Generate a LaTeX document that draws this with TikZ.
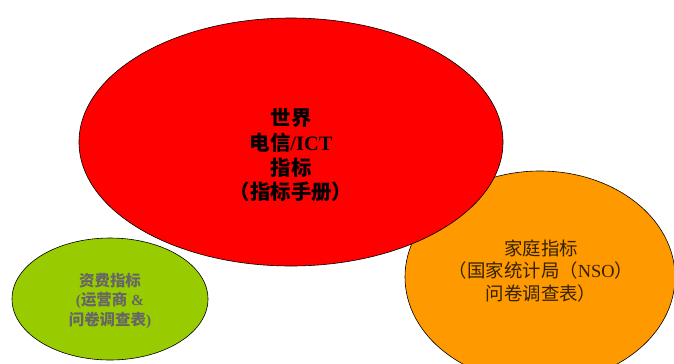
\documentclass[tikz,border=0pt]{standalone}
\usepackage{fontspec}
\setmainfont{Liberation Serif}
\newfontfamily\cjk{Noto Sans CJK SC}
\usetikzlibrary{shapes.geometric}
\definecolor{redfill}{RGB}{255,0,0}
\definecolor{greenfill}{RGB}{153,204,0}
\definecolor{orangefill}{RGB}{255,153,0}
\definecolor{graytext}{RGB}{102,102,102}
\definecolor{darktext}{RGB}{51,34,0}
\tikzset{
  blob/.style={draw=black, line width=0.6bp},
  lbl/.style={align=center, inner sep=0pt}
}
\begin{document}
\begin{tikzpicture}[x=1bp,y=-1bp]
\useasboundingbox (0,0) rectangle (674,363);
\fill[white] (0,0) rectangle (674,363);
\draw[blob, fill=greenfill] (110,299) ellipse [x radius=98, y radius=61];
\draw[blob, fill=orangefill] (540,277) ellipse [x radius=135, y radius=106];
\draw[blob, fill=redfill] (291,142) ellipse [x radius=212, y radius=124];
\node[lbl, font=\bfseries\fontsize{20.5}{25}\selectfont] (red) at (291,155)
  {{\cjk\bfseries 世界}\\{\cjk\bfseries 电信}/ICT\\{\cjk\bfseries 指标}\\{\cjk\bfseries （指标手册）}};
\node[lbl, text=graytext, font=\bfseries\fontsize{15.5}{19.5}\selectfont] (green) at (110,301)
  {{\cjk\bfseries 资费指标}\\({\cjk\bfseries 运营商} \&\\{\cjk\bfseries 问卷调查表})};
\node[lbl, text=darktext, font=\fontsize{18.5}{23}\selectfont] (orange) at (541,271)
  {{\cjk 家庭指标}\\{\cjk （国家统计局（}NSO{\cjk ）}\\{\cjk 问卷调查表）}};
\end{tikzpicture}
\end{document}
